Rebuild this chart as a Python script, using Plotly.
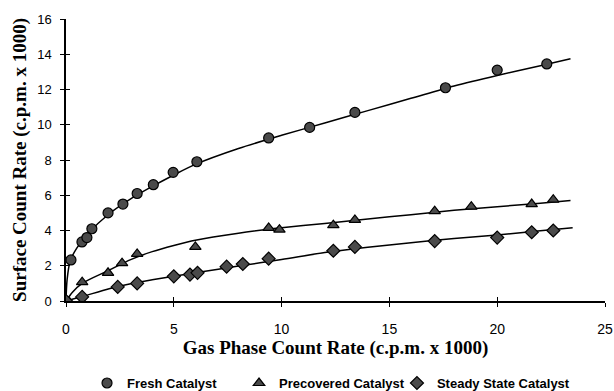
import plotly.graph_objects as go

# Measured data (gas phase count rate, surface count rate), c.p.m. x 1000
fresh_x = [0, 0.23, 0.74, 0.97, 1.2, 1.95, 2.64, 3.3, 4.05, 4.97, 6.07, 9.4, 11.3, 13.4, 17.6, 20.0, 22.3]
fresh_y = [0, 2.33, 3.35, 3.6, 4.1, 5.0, 5.5, 6.1, 6.6, 7.3, 7.9, 9.25, 9.85, 10.7, 12.1, 13.1, 13.45]

precov_x = [0, 0.75, 1.95, 2.6, 3.3, 6.0, 9.4, 9.9, 12.4, 13.4, 17.1, 18.8, 21.6, 22.6]
precov_y = [0, 1.07, 1.6, 2.15, 2.67, 3.07, 4.15, 4.05, 4.3, 4.6, 5.1, 5.35, 5.5, 5.75]

steady_x = [0, 0.75, 2.4, 3.3, 5.0, 5.75, 6.1, 7.45, 8.2, 9.4, 12.4, 13.4, 17.1, 20.0, 21.6, 22.6]
steady_y = [0, 0.23, 0.8, 1.0, 1.4, 1.5, 1.6, 1.95, 2.1, 2.4, 2.85, 3.07, 3.4, 3.6, 3.9, 4.0]

# Fitted curves as drawn in the chart
fresh_fit_x = [0, 0.05, 0.2, 0.5, 1, 2, 3, 4, 5, 6, 8, 10, 12, 14, 16, 18, 20, 22, 23.4]
fresh_fit_y = [0, 1.2, 2.3, 3.0, 3.8, 4.95, 5.8, 6.5, 7.15, 7.75, 8.65, 9.4, 10.1, 10.8, 11.5, 12.2, 12.8, 13.35, 13.75]

precov_fit_x = [0, 0.3, 0.75, 2, 3, 4, 5, 6, 8, 10, 12, 14, 16, 18, 20, 22, 23.4]
precov_fit_y = [0, 0.5, 1.0, 1.75, 2.35, 2.8, 3.15, 3.45, 3.85, 4.15, 4.4, 4.65, 4.9, 5.15, 5.35, 5.55, 5.7]

steady_fit_x = [0, 0.75, 2, 3, 4, 5, 6, 8, 10, 12, 14, 16, 18, 20, 22, 23.5]
steady_fit_y = [0, 0.25, 0.7, 0.98, 1.2, 1.4, 1.6, 1.98, 2.35, 2.75, 3.05, 3.3, 3.55, 3.75, 3.98, 4.15]

x_ticks = [0, 5, 10, 15, 20, 25]
y_ticks = [0, 2, 4, 6, 8, 10, 12, 14, 16]

names = ["Fresh Catalyst", "Precovered Catalyst", "Steady State Catalyst"]
symbols = ["circle", "triangle-up", "diamond"]
legend_ids = ["legend", "legend2", "legend3"]
legend_x = [0.039, 0.321, 0.614]
MARK = "#4a4a4a"

fig = go.Figure()

for fx, fy in [(fresh_fit_x, fresh_fit_y), (precov_fit_x, precov_fit_y), (steady_fit_x, steady_fit_y)]:
    fig.add_trace(go.Scatter(x=fx, y=fy, mode="lines", line=dict(color="black", width=1.5, shape="spline", smoothing=0.8),
                             showlegend=False, hoverinfo="skip"))

for (xs, ys), name, sym, lg in zip([(fresh_x, fresh_y), (precov_x, precov_y), (steady_x, steady_y)], names, symbols, legend_ids):
    fig.add_trace(go.Scatter(x=xs, y=ys, mode="markers", name=name, legend=lg,
                             marker=dict(symbol=sym, size=10, color=MARK,
                                         line=dict(color="black", width=1.2))))

# overlay axes to give ticks crossing the axis lines
fig.add_trace(go.Scatter(x=[None], y=[None], xaxis="x2", yaxis="y2", showlegend=False, hoverinfo="skip"))

title_font = dict(family="Liberation Serif, Times New Roman, serif", size=19, color="black", weight="bold")
xtick_font = dict(family="Liberation Sans, Arial, sans-serif", size=14, color="black")
ytick_font = dict(family="Liberation Sans, Arial, sans-serif", size=13, color="black")
legend_font = dict(family="Liberation Sans, Arial, sans-serif", size=13, color="black", weight="bold")

legends = {}
for lg, lx in zip(legend_ids, legend_x):
    legends[lg] = dict(orientation="h", x=lx, xanchor="left", y=-0.291, yanchor="middle",
                       itemwidth=30, font=legend_font, bgcolor="rgba(0,0,0,0)", borderwidth=0)

fig.update_layout(
    width=614, height=391,
    margin=dict(l=66, r=9, t=19, b=90, autoexpand=False),
    paper_bgcolor="white", plot_bgcolor="white",
    xaxis=dict(range=[0, 25], tickvals=x_ticks, ticktext=[str(v) for v in x_ticks], automargin=False,
               showgrid=False, zeroline=False, showline=True, linecolor="black", linewidth=1.5,
               ticks="outside", ticklen=4, tickwidth=1.2, tickcolor="black", tickfont=xtick_font,
               ticklabelstandoff=10, ticklabeloverflow="allow",
               title=dict(text="Gas Phase Count Rate (c.p.m. x 1000)", font=title_font, standoff=1)),
    yaxis=dict(range=[0, 16], tickvals=y_ticks, ticktext=[str(v) for v in y_ticks], automargin=False,
               showgrid=False, zeroline=False, showline=True, linecolor="black", linewidth=1.5,
               ticks="outside", ticklen=4, tickwidth=1.2, tickcolor="black", tickfont=ytick_font,
               ticklabelstandoff=6, ticklabeloverflow="allow",
               title=dict(text="Surface Count Rate (c.p.m. x 1000)", font=title_font, standoff=6)),
    xaxis2=dict(overlaying="x", matches="x", range=[0, 25], tickvals=x_ticks, showticklabels=False,
                showgrid=False, zeroline=False, ticks="inside", ticklen=4, tickwidth=1.2, tickcolor="black", side="bottom"),
    yaxis2=dict(overlaying="y", matches="y", range=[0, 16], tickvals=y_ticks, showticklabels=False,
                showgrid=False, zeroline=False, ticks="inside", ticklen=4, tickwidth=1.2, tickcolor="black", side="left"),
    showlegend=True,
    **legends,
)

# remove the browser's default 8px page margin so the figure fills the window exactly
fig.write_html("out.html", config={"displayModeBar": False},
               post_script="document.body.style.margin='0';document.body.style.overflow='hidden';")
